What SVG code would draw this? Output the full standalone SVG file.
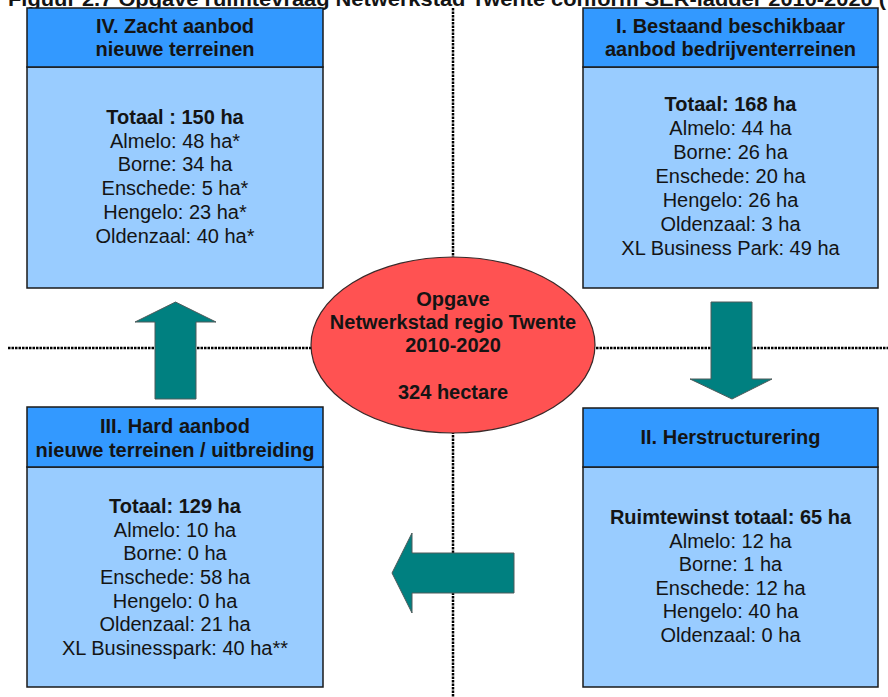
<svg xmlns="http://www.w3.org/2000/svg" width="888" height="697" viewBox="0 0 888 697">
<style>
text{font-family:"Liberation Sans",Arial,sans-serif;fill:#141414;text-anchor:middle}
.b{font-weight:bold;font-size:20px}
.r{font-size:20px}
.hd{fill:#3399FF;stroke:#1a1a1a;stroke-width:1.5}
.bd{fill:#99CCFF;stroke:#1a1a1a;stroke-width:1.5}
.dot{stroke:#000;stroke-width:2.5;stroke-dasharray:2.5 1;fill:none}
.arr{fill:#008080;stroke:#4d5a5a;stroke-width:1}
</style>
<rect width="888" height="697" fill="#fff"/>
<text x="447" y="6" class="b" textLength="878" lengthAdjust="spacingAndGlyphs">Figuur 2.7   Opgave ruimtevraag Netwerkstad Twente conform SER-ladder 2010-2020 (</text>
<g id="connectors">
<line class="dot" x1="453" y1="8" x2="453" y2="697"/>
<line class="dot" x1="8" y1="348" x2="888" y2="348"/>
<polygon class="arr" points="155,399 155,322 135,322 175.5,302 216,322 196,322 196,399"/>
<polygon class="arr" points="711,302 752,302 752,379 772,379 732,399 690,379 711,379"/>
<polygon class="arr" points="514,553 514,593 412,593 412,613 392,573 412,533 412,553"/>
</g>
<g id="node-IV">
<rect class="bd" x="27" y="67" width="296" height="221"/>
<rect class="hd" x="27" y="8" width="296" height="59"/>
<text x="175" y="33" class="b">IV. Zacht aanbod</text>
<text x="175" y="56" class="b">nieuwe terreinen</text>
<text x="175" y="124" class="b">Totaal : 150 ha</text>
<text x="175" y="148" class="r">Almelo: 48 ha*</text>
<text x="175" y="171" class="r">Borne: 34 ha</text>
<text x="175" y="195" class="r">Enschede: 5 ha*</text>
<text x="175" y="219" class="r">Hengelo: 23 ha*</text>
<text x="175" y="243" class="r">Oldenzaal: 40 ha*</text>
</g>
<g id="node-I">
<rect class="bd" x="583" y="67" width="295" height="221"/>
<rect class="hd" x="583" y="8" width="295" height="59"/>
<text x="730.5" y="33" class="b">I. Bestaand beschikbaar</text>
<text x="730.5" y="56" class="b">aanbod bedrijventerreinen</text>
<text x="730.5" y="111" class="b">Totaal: 168 ha</text>
<text x="730.5" y="135" class="r">Almelo: 44 ha</text>
<text x="730.5" y="159" class="r">Borne: 26 ha</text>
<text x="730.5" y="183" class="r">Enschede: 20 ha</text>
<text x="730.5" y="207" class="r">Hengelo: 26 ha</text>
<text x="730.5" y="231" class="r">Oldenzaal: 3 ha</text>
<text x="730.5" y="255" class="r">XL Business Park: 49 ha</text>
</g>
<g id="node-III">
<rect class="bd" x="27" y="467" width="296" height="220"/>
<rect class="hd" x="27" y="407" width="296" height="60"/>
<text x="175" y="433" class="b">III. Hard aanbod</text>
<text x="175" y="457" class="b">nieuwe terreinen / uitbreiding</text>
<text x="175" y="513" class="b">Totaal: 129 ha</text>
<text x="175" y="537" class="r">Almelo: 10 ha</text>
<text x="175" y="560" class="r">Borne: 0 ha</text>
<text x="175" y="584" class="r">Enschede: 58 ha</text>
<text x="175" y="608" class="r">Hengelo: 0 ha</text>
<text x="175" y="631" class="r">Oldenzaal: 21 ha</text>
<text x="175" y="655" class="r">XL Businesspark: 40 ha**</text>
</g>
<g id="node-II">
<rect class="bd" x="583" y="467" width="295" height="220"/>
<rect class="hd" x="583" y="408" width="295" height="59"/>
<text x="730.5" y="444" class="b">II. Herstructurering</text>
<text x="730.5" y="524" class="b">Ruimtewinst totaal: 65 ha</text>
<text x="730.5" y="548" class="r">Almelo: 12 ha</text>
<text x="730.5" y="571" class="r">Borne: 1 ha</text>
<text x="730.5" y="595" class="r">Enschede: 12 ha</text>
<text x="730.5" y="618" class="r">Hengelo: 40 ha</text>
<text x="730.5" y="642" class="r">Oldenzaal: 0 ha</text>
</g>
<g id="node-center">
<ellipse cx="453" cy="345" rx="142" ry="88" fill="#FF5252" stroke="#3a2a2a" stroke-width="1.2"/>
<text x="453" y="306" class="b">Opgave</text>
<text x="453" y="329" class="b">Netwerkstad regio Twente</text>
<text x="453" y="352" class="b">2010-2020</text>
<text x="453" y="399" class="b">324 hectare</text>
</g>
</svg>
